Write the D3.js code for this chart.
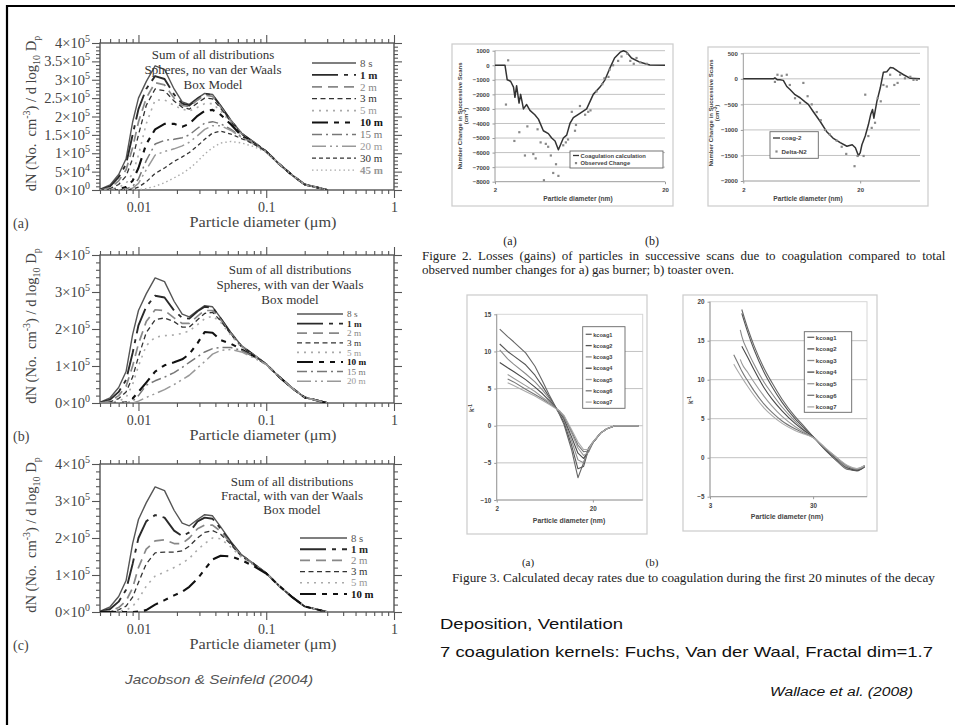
<!DOCTYPE html>
<html><head><meta charset="utf-8">
<script src="https://cdn.jsdelivr.net/npm/d3@7"></script>
<style>body{margin:0;background:#fff}svg{display:block}</style>
</head><body>
<svg id="c" width="955" height="725"></svg>
<script>
// ===================== DATA =====================
// Jacobson & Seinfeld (2004) – size distributions, values in units of 1e5 cm^-3
const diameterUm = [0.005,0.006,0.007,0.008,0.009,0.010,0.0115,0.0135,0.016,0.019,0.022,0.025,0.029,0.033,0.038,0.044,0.053,0.064,0.08,0.1,0.125,0.16,0.2,0.25,0.3];

const labelsA = ["8 s","1 m","2 m","3 m","5 m","10 m","15 m","20 m","30 m","45 m"];
const valuesA = [
 [0.02,0.14,0.42,0.85,1.85,2.5,2.95,3.38,3.28,2.75,2.4,2.33,2.5,2.63,2.6,2.3,1.9,1.55,1.3,1.05,0.72,0.4,0.15,0.07,0.0],
 [0.01,0.1,0.35,0.7,1.5,2.2,2.75,3.1,3.02,2.6,2.35,2.3,2.48,2.62,2.58,2.28,1.88,1.54,1.3,1.05,0.72,0.4,0.15,0.07,0.0],
 [0.0,0.06,0.25,0.55,1.15,1.85,2.5,2.92,2.86,2.5,2.3,2.27,2.45,2.58,2.55,2.26,1.87,1.53,1.3,1.05,0.72,0.4,0.15,0.07,0.0],
 [0.0,0.04,0.15,0.38,0.85,1.5,2.3,2.75,2.7,2.42,2.25,2.2,2.37,2.5,2.48,2.22,1.85,1.52,1.29,1.05,0.72,0.4,0.15,0.07,0.0],
 [0.0,0.02,0.07,0.18,0.45,0.95,1.8,2.45,2.45,2.3,2.2,2.15,2.25,2.35,2.35,2.15,1.82,1.5,1.28,1.05,0.72,0.4,0.15,0.07,0.0],
 [0.0,0.0,0.02,0.08,0.25,0.6,1.25,1.65,1.8,1.8,1.72,1.8,2.02,2.15,2.18,2.05,1.78,1.48,1.27,1.05,0.72,0.4,0.15,0.07,0.0],
 [0.0,0.0,0.0,0.03,0.1,0.3,0.8,1.25,1.35,1.38,1.42,1.5,1.68,1.82,1.86,1.8,1.65,1.45,1.26,1.05,0.72,0.4,0.15,0.07,0.0],
 [0.0,0.0,0.0,0.01,0.05,0.18,0.55,0.95,1.05,1.12,1.2,1.3,1.48,1.65,1.75,1.75,1.62,1.43,1.25,1.05,0.72,0.4,0.15,0.07,0.0],
 [0.0,0.0,0.0,0.0,0.02,0.08,0.22,0.45,0.6,0.78,0.9,1.02,1.2,1.38,1.55,1.6,1.52,1.4,1.25,1.05,0.72,0.4,0.15,0.07,0.0],
 [0.0,0.0,0.0,0.0,0.0,0.01,0.04,0.1,0.2,0.33,0.45,0.58,0.78,0.98,1.15,1.28,1.32,1.28,1.18,1.03,0.72,0.4,0.15,0.07,0.0]
];

const labelsB = ["8 s","1 m","2 m","3 m","5 m","10 m","15 m","20 m"];
const valuesB = [
 [0.02,0.14,0.42,0.85,1.85,2.5,2.95,3.38,3.28,2.75,2.4,2.33,2.5,2.63,2.6,2.3,1.9,1.55,1.3,1.05,0.72,0.4,0.15,0.07,0.0],
 [0.01,0.09,0.3,0.62,1.35,2.1,2.6,2.9,2.85,2.5,2.3,2.28,2.48,2.6,2.58,2.28,1.88,1.54,1.3,1.05,0.72,0.4,0.15,0.07,0.0],
 [0.0,0.05,0.2,0.45,1.0,1.6,2.2,2.52,2.5,2.3,2.15,2.15,2.35,2.5,2.5,2.25,1.87,1.53,1.3,1.05,0.72,0.4,0.15,0.07,0.0],
 [0.0,0.03,0.12,0.3,0.7,1.25,1.9,2.25,2.3,2.2,2.05,2.05,2.25,2.42,2.45,2.22,1.85,1.52,1.29,1.05,0.72,0.4,0.15,0.07,0.0],
 [0.0,0.01,0.05,0.15,0.5,1.0,1.55,1.78,1.82,1.84,1.88,1.95,2.12,2.28,2.35,2.18,1.83,1.5,1.28,1.05,0.72,0.4,0.15,0.07,0.0],
 [0.0,0.0,0.0,0.02,0.12,0.3,0.55,0.85,1.02,1.1,1.18,1.32,1.62,1.92,1.9,1.7,1.6,1.45,1.26,1.05,0.72,0.4,0.15,0.07,0.0],
 [0.0,0.0,0.0,0.0,0.05,0.2,0.48,0.6,0.7,0.82,0.96,1.1,1.25,1.38,1.47,1.5,1.5,1.42,1.25,1.05,0.72,0.4,0.15,0.07,0.0],
 [0.0,0.0,0.0,0.0,0.0,0.05,0.15,0.25,0.36,0.5,0.63,0.75,0.95,1.12,1.32,1.42,1.45,1.38,1.22,1.04,0.72,0.4,0.15,0.07,0.0]
];

const labelsC = ["8 s","1 m","2 m","3 m","5 m","10 m"];
const valuesC = [
 [0.02,0.14,0.42,0.85,1.85,2.5,2.95,3.38,3.28,2.75,2.4,2.33,2.5,2.63,2.6,2.3,1.9,1.55,1.3,1.05,0.72,0.4,0.15,0.07,0.0],
 [0.01,0.08,0.28,0.6,1.3,2.0,2.45,2.62,2.55,2.2,2.05,2.15,2.45,2.55,2.52,2.25,1.87,1.53,1.3,1.05,0.72,0.4,0.15,0.07,0.0],
 [0.0,0.03,0.12,0.3,0.65,1.2,1.7,1.92,1.95,1.85,1.85,2.0,2.25,2.35,2.35,2.18,1.85,1.52,1.29,1.05,0.72,0.4,0.15,0.07,0.0],
 [0.0,0.01,0.06,0.16,0.4,0.8,1.3,1.6,1.62,1.62,1.65,1.78,2.0,2.15,2.2,2.1,1.82,1.5,1.28,1.05,0.72,0.4,0.15,0.07,0.0],
 [0.0,0.0,0.02,0.05,0.15,0.35,0.7,0.97,1.08,1.2,1.32,1.45,1.68,1.85,2.0,1.98,1.75,1.48,1.27,1.05,0.72,0.4,0.15,0.07,0.0],
 [0.0,0.0,0.0,0.0,0.0,0.01,0.05,0.2,0.32,0.45,0.55,0.68,0.9,1.15,1.42,1.52,1.5,1.4,1.24,1.04,0.72,0.4,0.15,0.07,0.0]
];

const xMajorTicks = [0.01, 0.1, 1];
const xMinorTicks = [0.005,0.006,0.007,0.008,0.009,0.02,0.03,0.04,0.05,0.06,0.07,0.08,0.09,0.2,0.3,0.4,0.5,0.6,0.7,0.8,0.9];
const yMajorA = [0,0.5,1,1.5,2,2.5,3,3.5,4];
const yMinorA = [0.1,0.2,0.3,0.4,0.6,0.7,0.8,0.9,1.1,1.2,1.3,1.4,1.6,1.7,1.8,1.9,2.1,2.2,2.3,2.4,2.6,2.7,2.8,2.9,3.1,3.2,3.3,3.4,3.6,3.7,3.8,3.9];
const yMajorBC = [0,1,2,3,4];
const yMinorBC = [0.2,0.4,0.6,0.8,1.2,1.4,1.6,1.8,2.2,2.4,2.6,2.8,3.2,3.4,3.6,3.8];

// Wallace et al. (2008) – Figure 2 (a) gas burner
const burnerDiamCalc = [2.0,2.29,2.36,2.47,2.57,2.62,2.68,2.77,2.83,2.94,3.07,3.21,3.43,3.60,3.85,4.12,4.31,4.51,4.72,5.05,5.28,5.52,5.78,6.32,6.92,7.57,8.29,8.87,9.48,10.1,10.9,11.4,11.9,12.7,14.3,16.3,20.0];
const burnerCalc = [0,0,-1000,-1100,-1500,-2200,-1400,-2600,-2000,-3000,-2700,-3100,-3400,-3700,-4500,-4700,-5000,-5200,-5800,-5000,-4800,-4000,-3600,-3300,-3000,-2000,-1500,-1000,-200,500,900,1000,900,500,200,20,0];
const burnerDiamObs = [2.39,2.32,2.6,2.78,3.0,3.1,3.36,3.47,3.56,3.71,3.88,3.98,4.11,4.26,4.4,4.57,4.72,5.04,5.22,5.38,5.66,5.91,5.99,6.32,6.78,7.07,7.29,7.91,8.55,8.8,9.3,9.45,9.9,10.6,11.1,12.0,12.5,13.1,13.6,14.3,15.6];
const burnerObs = [340,-2700,-5200,-4600,-6200,-4200,-6100,-6400,-4400,-5300,-7900,-5400,-5600,-6200,-7400,-6800,-7600,-5500,-5300,-5100,-3200,-4500,-4100,-2800,-3400,-3200,-3100,-1800,-1300,-900,-800,-300,0,300,600,800,300,100,500,200,100];
const burnerYTicks = [1000,0,-1000,-2000,-3000,-4000,-5000,-6000,-7000,-8000];

// Figure 2 (b) toaster oven
const toasterDiamCalc = [2.0,3.62,3.73,3.92,4.12,4.4,4.71,5.02,5.54,6.12,6.75,7.2,7.92,9.07,10.3,11.7,13.5,15.4,17.1,18.2,19.3,20.0,20.7,22.1,23.5,24.6,25.5,26.2,27.8,29.7,31.6,33.8,36.1,38.5,42.6,47.0,53.7,65.0];
const toasterCalc = [0,0,20,-20,-20,-30,-150,-210,-310,-370,-450,-500,-640,-830,-1030,-1160,-1250,-1320,-1290,-1350,-1500,-1450,-1290,-1120,-900,-700,-600,-770,-440,-180,130,140,220,210,140,80,10,0];
const toasterDiamObs = [3.73,3.92,4.26,4.71,5.0,5.54,6.12,6.53,7.1,7.7,8.5,9.2,10.0,11.0,12.6,13.9,15.2,17.9,19.0,21.4,22.1,23.5,25.1,26.8,28.2,30.0,31.6,33.8,36.1,39.2,41.8,43.9,48.3,53.7,57.2,61.0];
const toasterObs = [-60,80,60,80,-120,-380,-470,-80,-340,-500,-650,-810,-1000,-1090,-1210,-1330,-1470,-1710,-1510,-1510,-310,-1120,-960,-860,-380,-440,-120,-150,80,-120,-80,80,10,40,-20,-20];
const toasterYTicks = [500,0,-500,-1000,-1500,-2000];

// Figure 3 (a), (b) decay rates
const kcoagLabels = ["kcoag1","kcoag2","kcoag3","kcoag4","kcoag5","kcoag6","kcoag7"];
const decayDiamA = [2.15,2.6,3,4,5,6,7,8,9,10,12,14,16,18,20,24,28,34,45,60];
const decayA = [
 [13.0,12.0,11.3,9.8,8.0,6.0,4.2,2.8,1.5,0.2,-3.2,-7.0,-5.0,-3.0,-2.2,-1.0,-0.4,0,0,0],
 [11.0,10.0,9.4,8.2,6.8,5.3,3.9,2.7,1.6,0.5,-2.6,-5.8,-5.5,-3.2,-2.3,-1.0,-0.4,0,0,0],
 [10.2,9.0,8.3,7.0,5.9,4.8,3.7,2.6,1.7,0.8,-2.0,-4.6,-5.0,-3.3,-2.3,-1.0,-0.4,0,0,0],
 [8.5,7.8,7.3,6.2,5.2,4.3,3.4,2.6,1.8,1.0,-1.5,-3.7,-4.4,-3.5,-2.3,-1.0,-0.4,0,0,0],
 [null,6.9,6.4,5.4,4.6,3.8,3.2,2.5,1.9,1.2,-1.0,-3.0,-4.0,-3.6,-2.3,-1.0,-0.4,0,0,0],
 [null,6.3,5.9,4.9,4.2,3.6,3.0,2.5,2.0,1.3,-0.7,-2.6,-3.5,-3.4,-2.3,-1.0,-0.4,0,0,0],
 [null,5.8,5.4,4.6,4.0,3.4,2.9,2.4,2.0,1.4,-0.5,-2.2,-3.2,-3.2,-2.2,-1.0,-0.4,0,0,0]
];
const decayYTicksA = [15,10,5,0,-5,-10];
const decayDiamB = [5.1,5.9,6.1,7,8,10,12,15,20,25,30,40,50,65,80,95];
const decayB = [
 [null,null,19.0,16.5,14.4,11.5,9.6,7.5,5.3,3.9,2.7,0.9,-0.3,-1.5,-1.6,-1.0],
 [null,null,18.5,16.0,13.9,11.0,9.1,7.1,5.0,3.7,2.7,0.9,-0.3,-1.4,-1.7,-1.1],
 [null,16.4,15.6,13.6,12.0,9.7,8.2,6.5,4.7,3.5,2.7,1.0,-0.2,-1.4,-1.5,-1.0],
 [null,null,14.3,12.8,11.3,9.0,7.5,6.0,4.4,3.4,2.7,1.0,-0.1,-1.3,-1.6,-1.2],
 [null,12.6,12.1,10.9,9.7,7.9,6.6,5.3,4.0,3.2,2.6,1.1,0.0,-1.2,-1.4,-1.0],
 [13.2,11.5,11.1,9.8,8.6,6.9,5.8,4.7,3.7,3.1,2.6,1.1,0.1,-1.1,-1.5,-1.1],
 [12.0,10.6,10.3,9.1,8.0,6.4,5.4,4.4,3.5,3.0,2.6,1.2,0.1,-1.0,-1.4,-1.0]
];
const decayYTicksB = [20,15,10,5,0,-5];

// ===================== STYLES =====================
const SERIF = "'Liberation Serif','Times New Roman',serif";
const SANS = "'Liberation Sans',Arial,sans-serif";
const lineStyles = {
 "8 s": {c:"#555", w:1.4, d:null, bold:false},
 "1 m": {c:"#2a2a2a", w:1.9, d:"26,6,4,6", bold:true},
 "2 m": {c:"#888", w:1.7, d:"10,6", bold:false},
 "3 m": {c:"#333", w:1.3, d:"5,3.5", bold:false},
 "5 m": {c:"#aaa", w:1.6, d:"2,5", bold:false},
 "10 m": {c:"#111", w:2.1, d:"16,6,5,6,5,6", bold:true},
 "15 m": {c:"#777", w:1.5, d:"10,4,2,4", bold:false},
 "20 m": {c:"#999", w:1.5, d:"14,4,2,4,2,4", bold:false},
 "30 m": {c:"#333", w:1.3, d:"4,3", bold:false},
 "45 m": {c:"#aaa", w:1.4, d:"1.5,3", bold:true}
};
const kcoagColors = ["#666","#555","#8a8a8a","#4a4a4a","#9a9a9a","#777","#aaa"];

// ===================== DRAW =====================
const svg = d3.select("#c");
svg.append("rect").attr("width",955).attr("height",725).attr("fill","#fff");
svg.append("path").attr("d","M7,725V6H955").attr("fill","none").attr("stroke","#000").attr("stroke-width",2.2);

function leftPanel(p) {
  const L = 100, R = 394;
  const x = d3.scaleLog().domain([0.005, 1]).range([L, R]);
  const y = d3.scaleLinear().domain([0, 4]).range([p.bottom, p.top]);
  const g = svg.append("g");
  const ax = "#555";
  const clip = "clip" + p.id;
  svg.append("clipPath").attr("id", clip).append("rect")
    .attr("x", L).attr("y", p.top - 2).attr("width", R - L).attr("height", p.bottom - p.top + 2);
  const st = s => { s.select(".domain").remove(); s.selectAll("line").attr("stroke", ax).attr("stroke-width", 1.1); };

  g.append("g").attr("transform", `translate(0,${p.bottom})`).call(d3.axisBottom(x).tickValues(xMinorTicks).tickSize(4).tickFormat("")).call(st);
  g.append("g").attr("transform", `translate(0,${p.bottom})`)
    .call(d3.axisBottom(x).tickValues(xMajorTicks).tickSize(8).tickPadding(4).tickFormat(d3.format("")))
    .call(st).call(s => s.selectAll("text").attr("font-family", SERIF).attr("font-size", 14).attr("fill", "#444"));
  g.append("g").attr("transform", `translate(0,${p.top})`).call(d3.axisTop(x).tickValues(xMinorTicks).tickSize(4).tickFormat("")).call(st);
  g.append("g").attr("transform", `translate(0,${p.top})`).call(d3.axisTop(x).tickValues(xMajorTicks).tickSize(8).tickFormat("")).call(st);
  g.append("g").attr("transform", `translate(${L},0)`).call(d3.axisLeft(y).tickValues(p.yMinor).tickSize(4).tickFormat("")).call(st);
  g.append("g").attr("transform", `translate(${L},0)`).call(d3.axisLeft(y).tickValues(p.yMajor).tickSize(8).tickFormat("")).call(st);
  g.append("g").attr("transform", `translate(${R},0)`).call(d3.axisRight(y).tickValues(p.yMinor).tickSize(4).tickFormat("")).call(st);
  g.append("g").attr("transform", `translate(${R},0)`).call(d3.axisRight(y).tickValues(p.yMajor).tickSize(8).tickFormat("")).call(st);
  g.append("rect").attr("x", L).attr("y", p.top).attr("width", R - L).attr("height", p.bottom - p.top)
    .attr("fill", "none").attr("stroke", ax).attr("stroke-width", 1.4);

  // y tick labels (scientific)
  p.yMajor.forEach(v => {
    const n = v * 1e5;
    let m = "0", e = 0;
    if (n > 0) { e = Math.floor(Math.log10(n) + 1e-9); m = String(+(n / Math.pow(10, e)).toFixed(2)); }
    const t = g.append("text").attr("x", L - 10).attr("y", y(v) + 5).attr("text-anchor", "end")
      .attr("font-family", SERIF).attr("font-size", 14.5).attr("fill", "#444");
    t.append("tspan").text(m + "×10");
    t.append("tspan").attr("dy", -6).attr("font-size", 10).text(e);
  });

  // y title
  const cy = (p.top + p.bottom) / 2 - 3;
  const yt = g.append("text").attr("transform", `translate(36,${cy}) rotate(-90)`).attr("text-anchor", "middle")
    .attr("font-family", SERIF).attr("font-size", 14.5).attr("fill", "#444");
  yt.append("tspan").text("dN (No.\u00a0 cm");
  yt.append("tspan").attr("dy", -6).attr("font-size", 10).text("-3");
  yt.append("tspan").attr("dy", 6).text(") / d log");
  yt.append("tspan").attr("dy", 4).attr("font-size", 10).text("10");
  yt.append("tspan").attr("dy", -4).text(" D");
  yt.append("tspan").attr("dy", 4).attr("font-size", 10).text("p");

  // x title and panel tag
  g.append("text").attr("x", 263).attr("y", p.bottom + 37).attr("text-anchor", "middle")
    .attr("textLength", 147).attr("lengthAdjust", "spacingAndGlyphs")
    .attr("font-family", SERIF).attr("font-size", 14).attr("fill", "#444").text("Particle diameter (μm)");
  g.append("text").attr("x", 13).attr("y", p.bottom + 38)
    .attr("font-family", SERIF).attr("font-size", 14).attr("fill", "#444").text(p.tag);

  // series
  const line = d3.line().x((d, j) => x(diameterUm[j])).y(d => y(d));
  const sg = g.append("g").attr("clip-path", `url(#${clip})`);
  p.values.forEach((vals, i) => {
    const s = lineStyles[p.labels[i]];
    sg.append("path").datum(vals).attr("d", line).attr("fill", "none")
      .attr("stroke", s.c).attr("stroke-width", s.w).attr("stroke-dasharray", s.d)
      .attr("stroke-linejoin", "round");
  });

  // legend
  p.titles.forEach((t, i) => {
    g.append("text").attr("x", p.titleX).attr("y", p.titleY[i]).attr("text-anchor", "middle")
      .attr("font-family", SERIF).attr("font-size", p.titleSize).attr("fill", "#333").text(t);
  });
  p.labels.forEach((lab, i) => {
    const s = lineStyles[lab];
    const yy = p.legY0 + i * p.legDy;
    g.append("line").attr("x1", p.legX1).attr("x2", p.legX2).attr("y1", yy).attr("y2", yy)
      .attr("stroke", s.c).attr("stroke-width", s.w).attr("stroke-dasharray", s.d);
    g.append("text").attr("x", p.legX2 + 4).attr("y", yy + p.legSize * 0.34)
      .attr("font-family", SERIF).attr("font-size", p.legSize).attr("font-weight", s.bold ? "bold" : "normal")
      .attr("fill", s.c === "#aaa" ? "#999" : s.c).text(lab);
  });
}

leftPanel({id:"a", tag:"(a)", top:43, bottom:190, labels:labelsA, values:valuesA, yMajor:yMajorA, yMinor:yMinorA,
  titles:["Sum of all distributions","Spheres, no van der Waals","Box Model"], titleX:213, titleY:[59,74,89], titleSize:13,
  legX1:312, legX2:356, legY0:63, legDy:11.9, legSize:11});
leftPanel({id:"b", tag:"(b)", top:255, bottom:403, labels:labelsB, values:valuesB, yMajor:yMajorBC, yMinor:yMinorBC,
  titles:["Sum of all distributions","Spheres, with van der Waals","Box model"], titleX:290, titleY:[274,289,304], titleSize:13,
  legX1:297, legX2:343, legY0:314, legDy:9.6, legSize:9.2});
leftPanel({id:"c", tag:"(c)", top:464, bottom:612, labels:labelsC, values:valuesC, yMajor:yMajorBC, yMinor:yMinorBC,
  titles:["Sum of all distributions","Fractal, with van der Waals","Box model"], titleX:292, titleY:[486,500,514], titleSize:13,
  legX1:300, legX2:347, legY0:538, legDy:11.2, legSize:10.8});

svg.append("text").attr("x", 125).attr("y", 684).attr("font-family", SANS).attr("font-style", "italic")
  .attr("textLength", 188).attr("lengthAdjust", "spacingAndGlyphs")
  .attr("font-size", 13.5).attr("fill", "#555").text("Jacobson & Seinfeld (2004)");

// ---------- Excel-style charts ----------
function excel(o) {
  const g = svg.append("g");
  g.append("rect").attr("x", o.box[0]).attr("y", o.box[1]).attr("width", o.box[2] - o.box[0]).attr("height", o.box[3] - o.box[1])
    .attr("fill", "#fff").attr("stroke", "#cfcfcf").attr("stroke-width", 1.3);
  const x = d3.scaleLog().domain(o.xDomain).range(o.xRange);
  const y = d3.scaleLinear().domain(o.yDomain).range(o.yRange);
  const [x0, x1] = o.xRange;
  if (o.outline) g.append("rect").attr("x", x0).attr("y", o.yRange[1]).attr("width", x1 - x0).attr("height", o.yRange[0] - o.yRange[1])
    .attr("fill", "none").attr("stroke", "#d6d6d6").attr("stroke-width", 1);
  g.selectAll(null).data(o.grid).join("line").attr("x1", x0).attr("x2", x1).attr("y1", d => y(d)).attr("y2", d => y(d))
    .attr("stroke", "#c2c2c2").attr("stroke-width", 1);
  g.append("line").attr("x1", x0).attr("x2", x0).attr("y1", o.yRange[0]).attr("y2", o.yRange[1]).attr("stroke", "#9a9a9a").attr("stroke-width", 1);
  g.append("line").attr("x1", x0).attr("x2", x1).attr("y1", o.yRange[0]).attr("y2", o.yRange[0]).attr("stroke", "#9a9a9a").attr("stroke-width", 1);
  const yAx = g.append("g").attr("transform", `translate(${x0},0)`)
    .call(d3.axisLeft(y).tickValues(o.yTicks).tickSize(2.5).tickPadding(3).tickFormat(d3.format("d")));
  yAx.select(".domain").remove();
  yAx.selectAll("line").attr("stroke", "#9a9a9a");
  yAx.selectAll("text").attr("font-family", SANS).attr("font-weight", "bold").attr("font-size", o.fs).attr("fill", "#444");
  const xAx = g.append("g").attr("transform", `translate(0,${o.yRange[0]})`)
    .call(d3.axisBottom(x).tickValues(o.xTicks).tickSize(2.5).tickPadding(4).tickFormat(d3.format("d")));
  xAx.select(".domain").remove();
  xAx.selectAll("line").attr("stroke", "#9a9a9a");
  xAx.selectAll("text").attr("font-family", SANS).attr("font-weight", "bold").attr("font-size", o.fs).attr("fill", "#444");
  g.append("text").attr("x", o.xTitle[0]).attr("y", o.xTitle[1]).attr("text-anchor", "middle")
    .attr("font-family", SANS).attr("font-weight", "bold").attr("font-size", o.fs + 0.6).attr("fill", "#444").text("Particle diameter (nm)");
  o.yTitle.forEach(t => {
    const tt = g.append("text").attr("transform", `translate(${t.x},${t.y}) rotate(-90)`).attr("text-anchor", "middle")
      .attr("font-family", SANS).attr("font-weight", "bold").attr("font-size", o.fs).attr("fill", "#444");
    tt.append("tspan").text(t.text);
    if (t.sup) tt.append("tspan").attr("dy", -2.5).attr("font-size", o.fs - 1.5).text(t.sup);
    if (t.after) tt.append("tspan").attr("dy", 2.5).text(t.after);
  });
  o.lines.forEach(s => {
    const ln = d3.line().defined(d => d[1] != null).x(d => x(d[0])).y(d => y(d[1])).curve(s.curve || d3.curveLinear);
    g.append("path").datum(s.xs.map((v, i) => [v, s.ys[i]])).attr("d", ln).attr("fill", "none")
      .attr("stroke", s.c).attr("stroke-width", s.w).attr("stroke-linejoin", "round");
  });
  (o.dots || []).forEach(s => {
    g.selectAll(null).data(s.xs.map((v, i) => [v, s.ys[i]])).join("rect")
      .attr("x", d => x(d[0]) - 1.1).attr("y", d => y(d[1]) - 1.1).attr("width", 2.2).attr("height", 2.2).attr("fill", s.c);
  });
  if (o.legend) {
    const lg = o.legend;
    g.append("rect").attr("x", lg.box[0]).attr("y", lg.box[1]).attr("width", lg.box[2] - lg.box[0]).attr("height", lg.box[3] - lg.box[1])
      .attr("fill", "#fff").attr("stroke", "#666").attr("stroke-width", 0.9);
    lg.items.forEach((it, i) => {
      const yy = lg.y0 + i * lg.dy;
      if (it.type === "line") g.append("line").attr("x1", lg.box[0] + lg.pad).attr("x2", lg.box[0] + lg.pad + lg.len).attr("y1", yy).attr("y2", yy)
        .attr("stroke", it.c).attr("stroke-width", 1.3);
      else g.append("rect").attr("x", lg.box[0] + lg.pad + lg.len / 2 - 1.1).attr("y", yy - 1.1).attr("width", 2.2).attr("height", 2.2).attr("fill", it.c);
      g.append("text").attr("x", lg.box[0] + lg.pad + lg.len + 1.5).attr("y", yy + 2.2)
        .attr("font-family", SANS).attr("font-weight", "bold").attr("font-size", lg.fs).attr("fill", "#444").text(it.text);
    });
  }
}

excel({box:[452,44,673,206], xDomain:[2,20], xRange:[495,665], yDomain:[-8000,1000], yRange:[181.7,50.7],
  grid:burnerYTicks.filter(v => v > -8000), yTicks:burnerYTicks, xTicks:[2,20], fs:6,
  xTitle:[578,201], yTitle:[{x:462,y:116,text:"Number Change in Successive Scans"},{x:468,y:116,text:"(cm",sup:"-3",after:")"}],
  lines:[{xs:burnerDiamCalc, ys:burnerCalc, c:"#333", w:1.5}],
  dots:[{xs:burnerDiamObs, ys:burnerObs, c:"#888"}],
  legend:{box:[570,151,663,168], y0:155.5, dy:7.6, pad:3, len:6, fs:5.8,
    items:[{type:"line", c:"#333", text:"Coagulation calculation"},{type:"dot", c:"#888", text:"Observed Change"}]}});

excel({box:[708,47,928,206], xDomain:[2,65], xRange:[743.3,920], yDomain:[-2000,500], yRange:[181,53.3],
  grid:toasterYTicks.filter(v => v > -2000), yTicks:toasterYTicks, xTicks:[2,20], fs:6,
  xTitle:[808,201], yTitle:[{x:713,y:113,text:"Number Change in Successive Scans"},{x:719,y:113,text:"(cm",sup:"-3",after:")"}],
  lines:[{xs:toasterDiamCalc, ys:toasterCalc, c:"#333", w:1.5}],
  dots:[{xs:toasterDiamObs, ys:toasterObs, c:"#888"}],
  legend:{box:[770,131.7,818.3,158.3], y0:138, dy:13.5, pad:3, len:7, fs:6.2,
    items:[{type:"line", c:"#333", text:"coag-2"},{type:"dot", c:"#888", text:"Delta-N2"}]}});

excel({box:[467,295,647,534], xDomain:[2,66], xRange:[496.7,642.7], yDomain:[-10,15], yRange:[500,314.3], outline:true,
  grid:[10,5,0,-5], yTicks:decayYTicksA, xTicks:[2,20], fs:6.3,
  xTitle:[569,523], yTitle:[{x:474,y:408,text:"k",sup:"-1"}],
  lines:decayA.map((ys, i) => ({xs:decayDiamA, ys:ys, c:kcoagColors[i], w:1.1})),
  legend:{box:[582.7,326.7,625,408.3], y0:334.3, dy:11.3, pad:3, len:6, fs:5.6,
    items:kcoagLabels.map((t, i) => ({type:"line", c:kcoagColors[i], text:t}))}});

excel({box:[683,295,877,531], xDomain:[3,100], xRange:[710,867], yDomain:[-5,20], yRange:[496.7,301.7], outline:true,
  grid:[15,10,5,0], yTicks:decayYTicksB, xTicks:[3,30], fs:6.3,
  xTitle:[787,519], yTitle:[{x:693,y:400,text:"k",sup:"-1"}],
  lines:decayB.map((ys, i) => ({xs:decayDiamB, ys:ys, c:kcoagColors[i], w:1.1, curve:d3.curveMonotoneX})),
  legend:{box:[804.3,331.7,851.7,412.3], y0:337.3, dy:11.6, pad:3, len:7, fs:6,
    items:kcoagLabels.map((t, i) => ({type:"line", c:kcoagColors[i], text:t}))}});

// ---------- captions and notes ----------
const cap = (x, y, txt, size, anchor) => svg.append("text").attr("x", x).attr("y", y).attr("text-anchor", anchor || "start")
  .attr("font-family", SERIF).attr("font-size", size).attr("fill", "#222").text(txt);
cap(510, 245, "(a)", 12, "middle");
cap(652, 245, "(b)", 12, "middle");
cap(422, 260, "Figure 2. Losses (gains) of particles in successive scans due to coagulation compared to total", 13).attr("word-spacing", 2.9);
cap(422, 274, "observed number changes for a) gas burner; b) toaster oven.", 13);
cap(528, 566, "(a)", 11, "middle");
cap(652, 566, "(b)", 11, "middle");
cap(452, 582, "Figure 3. Calculated decay rates due to coagulation during the first 20 minutes of the decay", 12)
  .attr("textLength", 483).attr("lengthAdjust", "spacingAndGlyphs");

svg.append("text").attr("x", 440).attr("y", 629).attr("font-family", SANS).attr("font-size", 14.5).attr("fill", "#111")
  .attr("textLength", 183).attr("lengthAdjust", "spacingAndGlyphs").text("Deposition, Ventilation");
svg.append("text").attr("x", 440).attr("y", 657).attr("font-family", SANS).attr("font-size", 14.5).attr("fill", "#111")
  .attr("textLength", 493).attr("lengthAdjust", "spacingAndGlyphs").text("7 coagulation kernels: Fuchs, Van der Waal, Fractal dim=1.7");
svg.append("text").attr("x", 770).attr("y", 696).attr("font-family", SANS).attr("font-style", "italic").attr("font-size", 12.5).attr("fill", "#111")
  .attr("textLength", 143).attr("lengthAdjust", "spacingAndGlyphs").text("Wallace et al. (2008)");
</script>
</body></html>
